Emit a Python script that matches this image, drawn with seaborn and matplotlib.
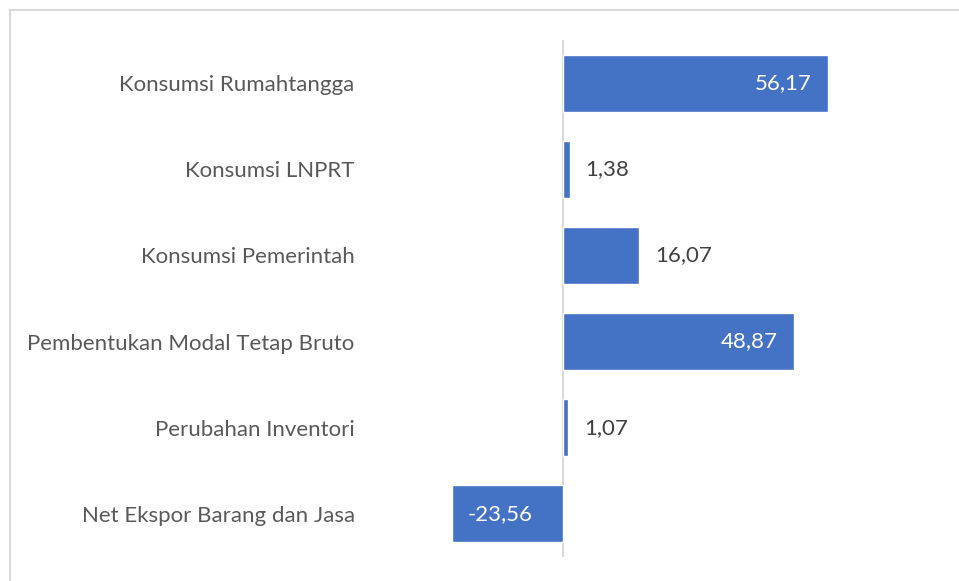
import matplotlib
matplotlib.use("Agg")
import matplotlib.pyplot as plt
import seaborn as sns
import pandas as pd
from matplotlib.lines import Line2D

categories = ["Konsumsi Rumahtangga", "Konsumsi LNPRT", "Konsumsi Pemerintah",
              "Pembentukan Modal Tetap Bruto", "Perubahan Inventori",
              "Net Ekspor Barang dan Jasa"]
values = [56.17, 1.38, 16.07, 48.87, 1.07, -23.56]
inside = [True, False, False, True, False, True]

sns.set_theme(style="white")
plt.rcParams['font.family'] = ['Lato', 'DejaVu Sans']

df = pd.DataFrame({"cat": categories, "val": values})

fig = plt.figure(figsize=(9.59, 5.81), dpi=100)
ax = fig.add_axes([370 / 959, 1 - 557 / 581, (930 - 370) / 959, (557 - 40) / 581])
sns.barplot(data=df, x="val", y="cat", color="#4472C4", saturation=1,
            width=0.66, ax=ax, orient="h")
ax.set_xlim(-(563 - 370) / 4.72, (930 - 563) / 4.72)
ax.set_ylim(5.5, -0.5)
ax.axvline(0, color="#D9D9D9", lw=1.5, zorder=0)
for s in ax.spines.values():
    s.set_visible(False)
ax.set_xticks([])
ax.set_xlabel("")
ax.set_ylabel("")
ax.tick_params(axis="y", length=0, pad=11, labelsize=16, labelcolor="#595959")

off = 16 / 4.72
for i, (v, ins) in enumerate(zip(values, inside)):
    label = f"{v:.2f}".replace(".", ",")
    if ins:
        if v > 0:
            ax.text(v - off, i, label, ha="right", va="center", color="white", fontsize=16)
        else:
            ax.text(v + off, i, label, ha="left", va="center", color="white", fontsize=16)
    else:
        ax.text(v + off, i, label, ha="left", va="center", color="#404040", fontsize=16)

# chart area border
fig.add_artist(Line2D([10 / 959, 1], [1 - 10 / 581, 1 - 10 / 581], color="#D9D9D9", lw=1.5))
fig.add_artist(Line2D([10 / 959, 10 / 959], [0, 1 - 10 / 581], color="#D9D9D9", lw=1.5))

fig.savefig("out.png", dpi=100)
